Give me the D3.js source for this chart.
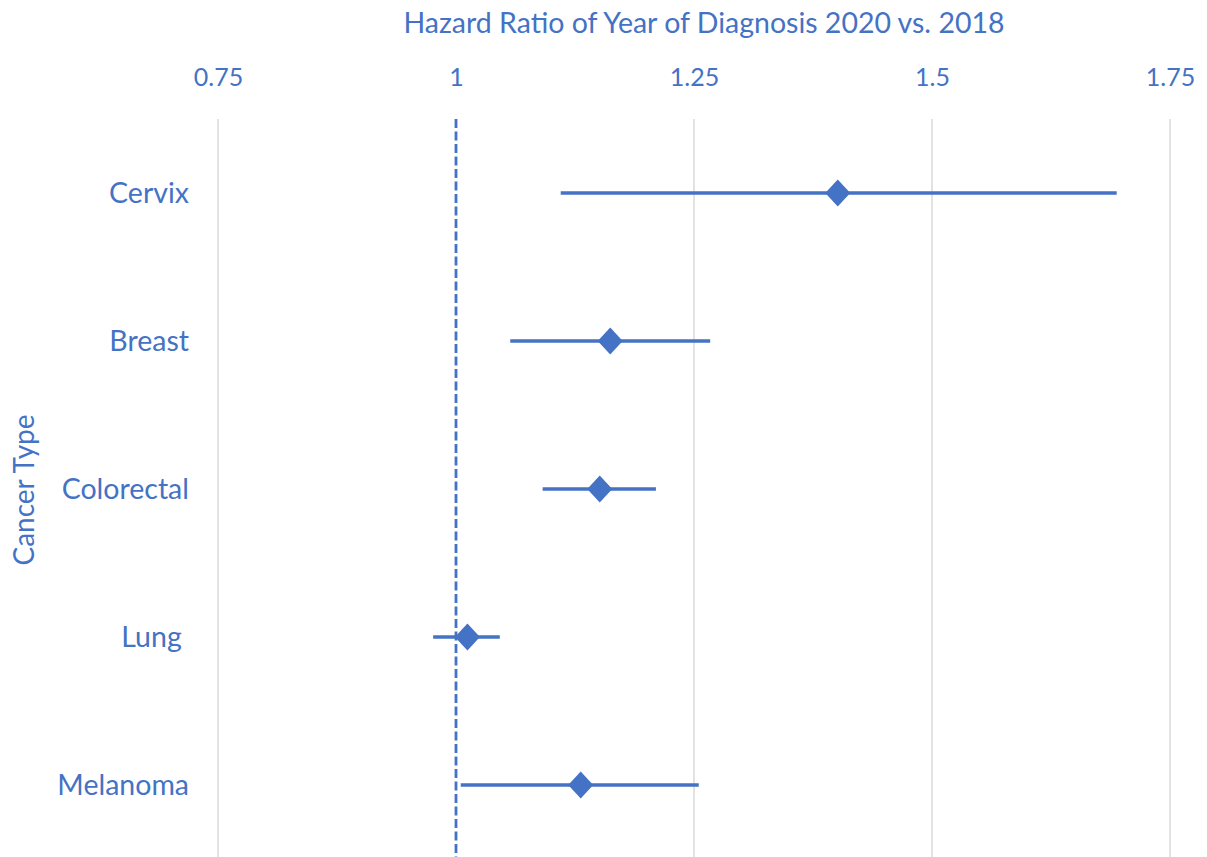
<!DOCTYPE html>
<html><head><meta charset="utf-8">
<script src="https://cdn.jsdelivr.net/npm/d3@7"></script>
<style>body{margin:0;background:#fff}svg{display:block}</style>
</head><body>
<svg id="c" width="1207" height="857"></svg>
<script>
const categories = ["Cervix","Breast","Colorectal","Lung ","Melanoma"];
const hazardRatio = [1.401, 1.162, 1.151, 1.012, 1.131];
const ciLower = [1.110, 1.057, 1.091, 0.976, 1.005];
const ciUpper = [1.694, 1.267, 1.210, 1.046, 1.255];
const xTicks = [0.75, 1, 1.25, 1.5, 1.75];
const xTickLabels = ["0.75","1","1.25","1.5","1.75"];
const refValue = 1;

const color = "#4472C4";
const font = "Lato, 'Open Sans', sans-serif";
const svg = d3.select("#c");
const x = d3.scaleLinear().domain([0.75, 1.75]).range([218, 1170]);
const y = d3.scaleBand().domain(categories).range([119, 859]);

// gridlines
svg.append("g").selectAll("line").data(xTicks.filter(t => t !== refValue)).join("line")
  .attr("x1", d => x(d)).attr("x2", d => x(d)).attr("y1", 119).attr("y2", 857)
  .attr("stroke", "#d9d9d9").attr("stroke-width", 1.5);

// top axis
const ax = d3.axisTop(x).tickValues(xTicks).tickFormat((d,i) => xTickLabels[i]).tickSize(0).tickPadding(0);
const axg = svg.append("g").attr("transform", "translate(0,86)").call(ax);
axg.select(".domain").remove();
axg.selectAll("text").attr("fill", color).style("font-family", font).style("font-size", "25px");

// left axis labels
const ay = d3.axisLeft(y).tickSize(0).tickPadding(0);
const ayg = svg.append("g").attr("transform", "translate(189,0)").call(ay);
ayg.select(".domain").remove();
ayg.selectAll("text").attr("fill", color).style("font-family", font).style("font-size", "28.5px")
  .style("white-space", "pre").attr("dy", "0.35em");

// reference dashed line
svg.append("line").attr("x1", x(refValue)).attr("x2", x(refValue)).attr("y1", 119).attr("y2", 857)
  .attr("stroke", color).attr("stroke-width", 2.8).attr("stroke-dasharray", "9,3.5");

// CI lines
const rows = categories.map((c,i) => ({c, hr: hazardRatio[i], lo: ciLower[i], hi: ciUpper[i]}));
svg.append("g").selectAll("line").data(rows).join("line")
  .attr("x1", d => x(d.lo)).attr("x2", d => x(d.hi))
  .attr("y1", d => y(d.c) + y.bandwidth()/2).attr("y2", d => y(d.c) + y.bandwidth()/2)
  .attr("stroke", color).attr("stroke-width", 3.3);

// diamonds
svg.append("g").selectAll("path").data(rows).join("path")
  .attr("transform", d => `translate(${x(d.hr)},${y(d.c) + y.bandwidth()/2})`)
  .attr("d", "M0,-13.5L12.5,0L0,13.5L-12.5,0Z").attr("fill", color);

// titles
svg.append("text").attr("x", 704).attr("y", 33).attr("text-anchor", "middle")
  .attr("fill", color).style("font-family", font).style("font-size", "28.5px")
  .text("Hazard Ratio of Year of Diagnosis 2020 vs. 2018");
svg.append("text").attr("transform", "translate(34,490) rotate(-90)").attr("text-anchor", "middle")
  .attr("fill", color).style("font-family", font).style("font-size", "28px")
  .text("Cancer Type");
</script>
</body></html>
